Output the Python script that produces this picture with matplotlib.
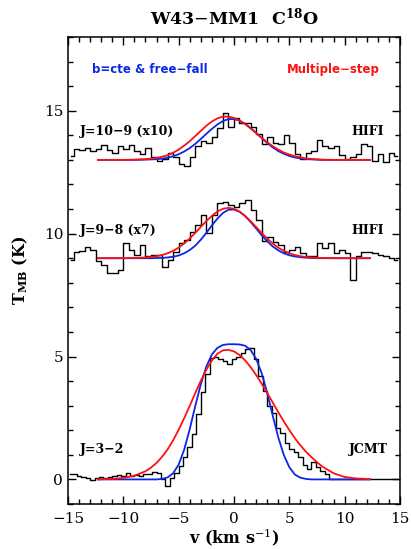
import numpy as np
import matplotlib
matplotlib.use("Agg")
import matplotlib.pyplot as plt
from matplotlib.ticker import MultipleLocator

plt.rcParams['font.family'] = ['DejaVu Serif']
plt.rcParams['mathtext.fontset'] = 'dejavuserif'

# observed spectra (channel centres in km/s, T_MB in K incl. offsets)
v_hifi = np.arange(-14.75, 15.0, 0.5)
t_j109 = [13.15, 13.45, 13.40, 13.50, 13.35, 13.45, 13.60, 13.40, 13.30, 13.55,
          13.45, 13.60, 13.35, 13.25, 13.50, 13.10, 12.95, 13.05, 13.30, 13.10,
          12.85, 12.75, 13.10, 13.55, 13.75, 13.70, 13.95, 14.30, 14.90, 14.35,
          14.70, 14.50, 14.50, 14.35, 14.05, 13.65, 13.95, 13.70, 13.65, 14.00,
          13.70, 13.25, 13.05, 13.30, 13.35, 13.80, 13.55, 13.50, 13.55, 13.20,
          13.05, 13.10, 13.25, 13.65, 13.55, 12.95, 13.25, 12.90, 13.30, 13.15]
t_j98 = [8.94, 9.27, 9.30, 9.47, 9.34, 8.87, 8.73, 8.39, 8.39, 8.53,
         9.60, 9.33, 9.14, 9.54, 9.07, 9.14, 9.14, 8.66, 8.93, 9.27,
         9.61, 9.74, 10.08, 10.35, 10.76, 10.01, 10.76, 11.23, 11.30, 11.16,
         11.09, 11.23, 11.36, 10.96, 10.55, 9.70, 9.88, 9.67, 9.54, 9.27,
         9.34, 9.47, 9.20, 9.07, 9.07, 9.61, 9.41, 9.61, 9.20, 9.34,
         9.20, 8.13, 9.07, 9.27, 9.27, 9.20, 9.14, 9.07, 9.00, 8.94]

v_jcmt = np.arange(-14.8, 15.0, 0.4)
t_j32 = [0.20, 0.20, 0.12, 0.10, 0.07, -0.04, 0.05, 0.08, 0.07, 0.10,
         0.12, 0.18, 0.12, 0.26, 0.15, 0.16, 0.15, 0.22, 0.20, 0.30,
         0.28, 0.00, -0.28, 0.06, 0.25, 0.55, 0.90, 1.30, 1.85, 2.65,
         3.55, 4.30, 4.95, 5.00, 4.90, 4.80, 4.70, 4.90, 4.98, 5.16,
         5.30, 5.36, 4.90, 4.20, 3.60, 3.00, 2.70, 2.10, 1.90, 1.50,
         1.25, 1.10, 0.90, 0.60, 0.44, 0.70, 0.50, 0.35, 0.20, 0.03,
         0.00, 0.00, 0.00, 0.00, 0.00, 0.00, 0.00, 0.00, 0.00, 0.00,
         0.00, 0.00, 0.00, 0.00, 0.00]

# model profiles
v_mod = [-12.3, -11, -10, -9, -8, -7.5, -7, -6.5, -6, -5.5, -5, -4.5, -4, -3.5,
         -3, -2.5, -2, -1.5, -1, -0.5, 0, 0.5, 1, 1.5, 2, 2.5, 3, 3.5, 4, 4.5,
         5, 5.5, 6, 6.5, 7, 7.5, 8, 9, 10, 11, 12.3]
red_j109 = [13.00, 13.00, 13.00, 13.01, 13.03, 13.05, 13.08, 13.13, 13.19, 13.29,
            13.42, 13.58, 13.76, 13.97, 14.18, 14.39, 14.56, 14.69, 14.76, 14.76,
            14.71, 14.60, 14.46, 14.28, 14.09, 13.90, 13.72, 13.56, 13.42, 13.30,
            13.22, 13.15, 13.10, 13.06, 13.04, 13.02, 13.01, 13.00, 13.00, 13.00, 13.00]
blue_j109 = [13.00, 13.00, 13.00, 13.00, 13.01, 13.02, 13.03, 13.05, 13.09, 13.15,
             13.23, 13.34, 13.48, 13.65, 13.85, 14.06, 14.26, 14.44, 14.58, 14.66,
             14.66, 14.60, 14.47, 14.30, 14.10, 13.89, 13.69, 13.51, 13.36, 13.25,
             13.16, 13.10, 13.06, 13.03, 13.02, 13.01, 13.00, 13.00, 13.00, 13.00, 13.00]
red_j98 = [9.00, 9.00, 9.00, 9.01, 9.03, 9.05, 9.08, 9.13, 9.20, 9.30,
           9.43, 9.60, 9.80, 10.03, 10.27, 10.51, 10.72, 10.90, 11.01, 11.05,
           11.01, 10.90, 10.72, 10.51, 10.27, 10.03, 9.80, 9.60, 9.43, 9.30,
           9.20, 9.13, 9.08, 9.05, 9.03, 9.01, 9.01, 9.00, 9.00, 9.00, 9.00]
blue_j98 = [9.00, 9.00, 9.00, 9.00, 9.00, 9.00, 9.01, 9.01, 9.03, 9.06,
            9.11, 9.20, 9.33, 9.51, 9.75, 10.03, 10.33, 10.61, 10.84, 10.97,
            10.98, 10.89, 10.72, 10.48, 10.21, 9.94, 9.69, 9.48, 9.32, 9.20,
            9.12, 9.07, 9.04, 9.02, 9.01, 9.00, 9.00, 9.00, 9.00, 9.00, 9.00]
red_j32 = [0.00, 0.02, 0.06, 0.15, 0.33, 0.48, 0.67, 0.92, 1.22, 1.59,
           2.02, 2.49, 2.99, 3.51, 4.01, 4.46, 4.84, 5.11, 5.25, 5.27,
           5.21, 5.06, 4.85, 4.57, 4.25, 3.90, 3.52, 3.13, 2.74, 2.36,
           2.01, 1.68, 1.39, 1.13, 0.91, 0.70, 0.52, 0.25, 0.10, 0.04, 0.01]
blue_j32 = [0.00, 0.00, 0.00, 0.00, 0.00, 0.00, 0.00, 0.02, 0.08, 0.25,
            0.60, 1.21, 2.04, 2.98, 3.87, 4.59, 5.08, 5.35, 5.47, 5.50,
            5.50, 5.49, 5.44, 5.27, 4.91, 4.33, 3.53, 2.60, 1.72, 1.00,
            0.50, 0.20, 0.07, 0.02, 0.00, 0.00, 0.00, 0.00, 0.00, 0.00, 0.00]

fig = plt.figure(figsize=(4.11, 5.49), dpi=100)
ax = fig.add_axes([0.1655, 0.082, 0.8075, 0.8506])

for t in (t_j109, t_j98):
    ax.step(v_hifi, t, where='mid', color='black', lw=1.0)
ax.step(v_jcmt, t_j32, where='mid', color='black', lw=1.0)

for b in (blue_j109, blue_j98, blue_j32):
    ax.plot(v_mod, b, color='#0a28e6', lw=1.3)
for r in (red_j109, red_j98, red_j32):
    ax.plot(v_mod, r, color='#ff1010', lw=1.3)

ax.set_xlim(-15, 15)
ax.set_ylim(-1, 18)
ax.xaxis.set_major_locator(MultipleLocator(5))
ax.xaxis.set_minor_locator(MultipleLocator(1))
ax.yaxis.set_major_locator(MultipleLocator(5))
ax.yaxis.set_minor_locator(MultipleLocator(1))
ax.tick_params(which='both', direction='in', top=True, right=True, width=1.0,
               labelsize=11)
ax.tick_params(axis='x', pad=6)
ax.tick_params(which='major', length=6)
ax.tick_params(which='minor', length=3.5)
for s in ax.spines.values():
    s.set_linewidth(1.1)

ax.set_title('W43$-$MM1  C$^{\\mathbf{18}}$O', fontsize=12.5, fontweight='bold',
             pad=9)
ax.set_xlabel('v (km s$^{-1}$)', fontsize=11.5, fontweight='bold', labelpad=0)
ax.set_ylabel(r'T$_{\mathbf{MB}}$ (K)', fontsize=11.5, fontweight='bold',
              labelpad=10)

lab = dict(fontsize=9, fontweight='bold')
leg = dict(fontsize=8.5, fontweight='bold', family='DejaVu Sans')
ax.text(-12.8, 16.66, 'b=cte & free\u2212fall', color='#0a28e6',
        va='center', ha='left', **leg)
ax.text(13.2, 16.66, 'Multiple\u2212step', color='#ff1010',
        va='center', ha='right', **leg)
ax.text(-13.9, 14.16, 'J=10\u22129 (x10)', va='center', ha='left', **lab)
ax.text(13.6, 14.16, 'HIFI', va='center', ha='right', **lab)
ax.text(-13.9, 10.14, 'J=9\u22128 (x7)', va='center', ha='left', **lab)
ax.text(13.6, 10.14, 'HIFI', va='center', ha='right', **lab)
ax.text(-13.9, 1.2, 'J=3\u22122', va='center', ha='left', **lab)
ax.text(13.9, 1.2, 'JCMT', va='center', ha='right', **lab)

fig.savefig('out.png', dpi=100)
